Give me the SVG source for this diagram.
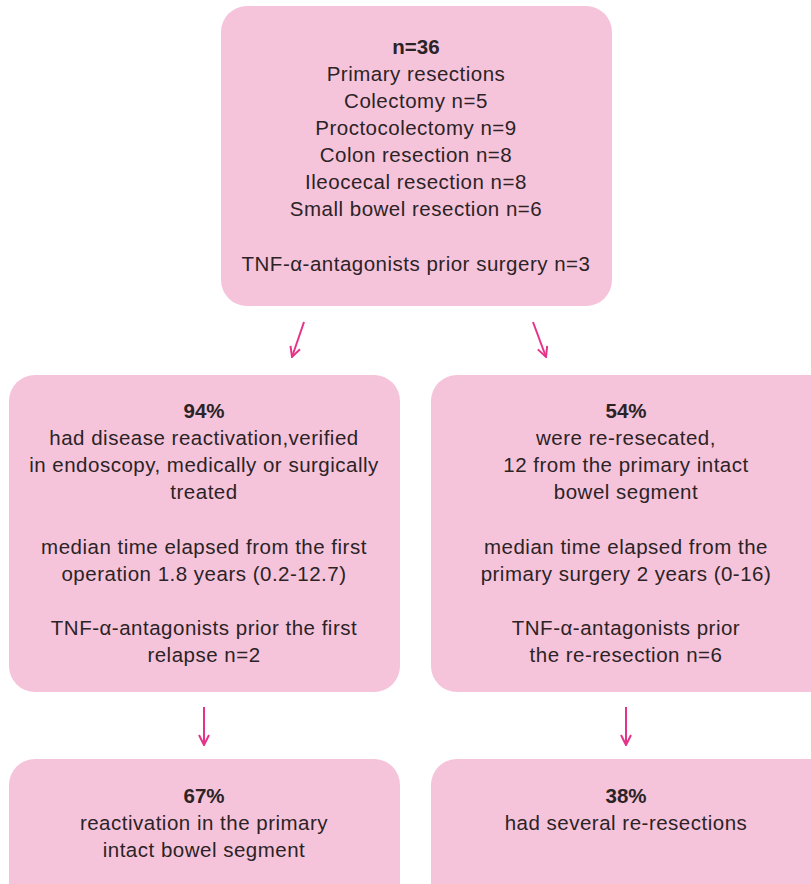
<svg xmlns="http://www.w3.org/2000/svg" width="811" height="884" viewBox="0 0 811 884">
<style>
.box{fill:#f6c4da}
text{font-family:"Liberation Sans",Arial,sans-serif;font-size:20.5px;letter-spacing:0.5px;fill:#2b2326;text-anchor:middle}
.b{font-weight:bold;letter-spacing:0}
.c{stroke:#e6338a;stroke-width:2;fill:none}
</style>
<defs>
<marker id="ah" viewBox="0 0 12 12" refX="11" refY="6" markerWidth="12" markerHeight="12" markerUnits="userSpaceOnUse" orient="auto">
<path d="M1,1 L11,6 L1,11" fill="none" stroke="#e6338a" stroke-width="2"/>
</marker>
</defs>
<rect width="811" height="884" fill="#fff"/>
<g id="connectors">
<path class="c" d="M304,322 L292,357" marker-end="url(#ah)"/>
<path class="c" d="M533,322 L546,357" marker-end="url(#ah)"/>
<path class="c" d="M204,707 L204,745" marker-end="url(#ah)"/>
<path class="c" d="M626,707 L626,745" marker-end="url(#ah)"/>
</g>
<g id="top">
<rect class="box" x="221" y="6" width="391" height="300" rx="26"/>
<text x="416" y="54" class="b">n=36</text>
<text x="416" y="81">Primary resections</text>
<text x="416" y="108">Colectomy n=5</text>
<text x="416" y="135">Proctocolectomy n=9</text>
<text x="416" y="162">Colon resection n=8</text>
<text x="416" y="189">Ileocecal resection n=8</text>
<text x="416" y="216">Small bowel resection n=6</text>
<text x="416" y="271">TNF-α-antagonists prior surgery n=3</text>
</g>
<g id="mid-left">
<rect class="box" x="9" y="375" width="391" height="317" rx="26"/>
<text x="204" y="418" class="b">94%</text>
<text x="204" y="445">had disease reactivation,verified</text>
<text x="204" y="472">in endoscopy, medically or surgically</text>
<text x="204" y="499">treated</text>
<text x="204" y="554">median time elapsed from the first</text>
<text x="204" y="581">operation 1.8 years (0.2-12.7)</text>
<text x="204" y="635">TNF-α-antagonists prior the first</text>
<text x="204" y="662">relapse n=2</text>
</g>
<g id="mid-right">
<rect class="box" x="431" y="375" width="410" height="317" rx="26"/>
<text x="626" y="418" class="b">54%</text>
<text x="626" y="445">were re-resecated,</text>
<text x="626" y="472">12 from the primary intact</text>
<text x="626" y="499">bowel segment</text>
<text x="626" y="554">median time elapsed from the</text>
<text x="626" y="581">primary surgery 2 years (0-16)</text>
<text x="626" y="635">TNF-α-antagonists prior</text>
<text x="626" y="662">the re-resection n=6</text>
</g>
<g id="bottom-left">
<rect class="box" x="9" y="759" width="391" height="160" rx="26"/>
<text x="204" y="803" class="b">67%</text>
<text x="204" y="830">reactivation in the primary</text>
<text x="204" y="857">intact bowel segment</text>
</g>
<g id="bottom-right">
<rect class="box" x="431" y="759" width="410" height="160" rx="26"/>
<text x="626" y="803" class="b">38%</text>
<text x="626" y="830">had several re-resections</text>
</g>
</svg>
